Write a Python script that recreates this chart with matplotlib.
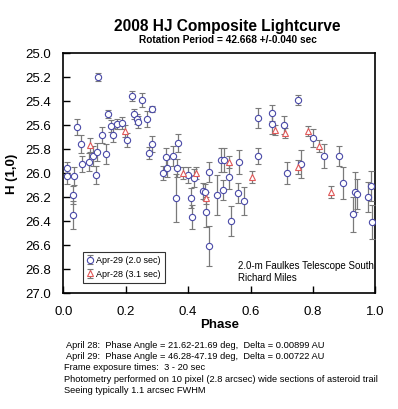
import matplotlib

matplotlib.use("Agg")
import matplotlib.pyplot as plt
import numpy as np

plt.rcParams["font.family"] = ["Liberation Sans", "DejaVu Sans"]

# Apr-29 (2.0 sec) - blue circles
apr29_phase = [0.011, 0.013, 0.034, 0.032, 0.032, 0.045, 0.057, 0.059, 0.081, 0.096,
               0.107, 0.105, 0.110, 0.124, 0.137, 0.144, 0.152, 0.158, 0.171, 0.188,
               0.205, 0.219, 0.227, 0.236, 0.238, 0.253, 0.267, 0.283, 0.285, 0.274,
               0.319, 0.328, 0.331, 0.353, 0.367, 0.363, 0.361, 0.401, 0.420, 0.408,
               0.412, 0.447, 0.455, 0.456, 0.468, 0.468, 0.492, 0.504, 0.515, 0.513,
               0.531, 0.538, 0.562, 0.561, 0.578, 0.623, 0.623, 0.670, 0.670, 0.707,
               0.717, 0.751, 0.762, 0.799, 0.837, 0.884, 0.896, 0.936, 0.942, 0.929,
               0.978, 0.986, 0.988]
apr29_mag = [26.023, 25.956, 26.018, 26.183, 26.345, 25.612, 25.758, 25.923, 25.903, 25.858,
             25.825, 26.014, 25.195, 25.681, 25.842, 25.506, 25.606, 25.681, 25.592, 25.583,
             25.725, 25.353, 25.506, 25.548, 25.570, 25.389, 25.545, 25.462, 25.756, 25.833,
             26.000, 25.867, 25.958, 25.856, 25.750, 25.958, 26.208, 26.014, 26.042, 26.208,
             26.367, 26.148, 26.158, 26.320, 26.606, 25.992, 26.178, 25.889, 25.889, 26.139,
             26.033, 26.395, 25.903, 26.167, 26.228, 25.542, 25.856, 25.500, 25.587, 25.598,
             26.000, 25.387, 25.920, 25.703, 25.853, 25.853, 26.078, 26.158, 26.175, 26.342,
             26.195, 26.106, 26.403]
apr29_err = [0.067, 0.050, 0.075, 0.075, 0.117, 0.067, 0.075, 0.067, 0.075, 0.083,
             0.075, 0.075, 0.033, 0.067, 0.083, 0.033, 0.050, 0.058, 0.042, 0.050,
             0.058, 0.042, 0.042, 0.042, 0.050, 0.058, 0.067, 0.025, 0.067, 0.050,
             0.058, 0.075, 0.075, 0.083, 0.075, 0.075, 0.200, 0.067, 0.075, 0.083,
             0.100, 0.067, 0.067, 0.125, 0.167, 0.083, 0.167, 0.100, 0.100, 0.083,
             0.100, 0.125, 0.100, 0.083, 0.117, 0.083, 0.067, 0.067, 0.083, 0.075,
             0.092, 0.042, 0.117, 0.075, 0.100, 0.083, 0.133, 0.167, 0.125, 0.142,
             0.125, 0.125, 0.142]

# Apr-28 (3.1 sec) - red triangles
apr28_phase = [0.087, 0.197, 0.385, 0.424, 0.457, 0.531, 0.605, 0.679, 0.712, 0.753,
               0.785, 0.821, 0.858]
apr28_mag = [25.764, 25.648, 26.000, 25.995, 26.208, 25.903, 26.033, 25.639, 25.667, 25.950,
             25.645, 25.770, 26.158]
apr28_err = [0.058, 0.050, 0.050, 0.050, 0.050, 0.050, 0.050, 0.042, 0.042, 0.058,
             0.042, 0.050, 0.050]

notes = [
    "April 28:  Phase Angle = 21.62-21.69 deg,  Delta = 0.00899 AU",
    "April 29:  Phase Angle = 46.28-47.19 deg,  Delta = 0.00722 AU",
    "Frame exposure times:  3 - 20 sec",
    "Photometry performed on 10 pixel (2.8 arcsec) wide sections of asteroid trail",
    "Seeing typically 1.1 arcsec FWHM",
]

fig = plt.figure(figsize=(3.98, 4.09), dpi=100)
ax = fig.add_axes([0.159, 0.2824, 0.784, 0.5873])

ax.errorbar(apr29_phase, apr29_mag, yerr=apr29_err, fmt="o", ms=4.5, mfc="white",
            mec="#4a4aa8", mew=0.8, ecolor="#7a7a7a", elinewidth=0.9, capsize=2.2,
            capthick=0.9, label="Apr-29 (2.0 sec)", zorder=3)
ax.errorbar(apr28_phase, apr28_mag, yerr=apr28_err, fmt="^", ms=4.2, mfc="white",
            mec="#e05858", mew=0.8, ecolor="#7a7a7a", elinewidth=0.9, capsize=2.2,
            capthick=0.9, label="Apr-28 (3.1 sec)", zorder=3)

ax.set_xlim(0, 1)
ax.set_ylim(27.0, 25.0)
ax.set_xticks(np.arange(0, 1.01, 0.2))
ax.set_yticks(np.arange(25.0, 27.01, 0.2))
ax.xaxis.set_major_formatter(plt.FormatStrFormatter("%.1f"))
ax.yaxis.set_major_formatter(plt.FormatStrFormatter("%.1f"))
ax.tick_params(direction="in", length=5, width=1, labelsize=9.5, top=False, right=False)
ax.tick_params(axis="x", pad=9)
ax.tick_params(axis="y", pad=9)
for s in ax.spines.values():
    s.set_linewidth(1.2)

ax.set_xlabel("Phase", fontsize=9.5, fontweight="bold", labelpad=1)
ax.set_ylabel("H (1,0)", fontsize=9.5, fontweight="bold", labelpad=5)

leg = ax.legend(loc="lower left", bbox_to_anchor=(0.062, 0.045), borderaxespad=0,
                fontsize=6.5, frameon=True, fancybox=False, handlelength=0.7,
                handletextpad=0.35, borderpad=0.45, labelspacing=0.5)
leg.get_frame().set_edgecolor("black")
leg.get_frame().set_linewidth(0.8)

ax.text(0.56, 0.045, "2.0-m Faulkes Telescope South\nRichard Miles", transform=ax.transAxes,
        fontsize=7, ha="left", va="bottom", linespacing=1.15)

fig.text(0.572, 0.935, "2008 HJ Composite Lightcurve", ha="center", va="center",
         fontsize=11.2, fontweight="bold")
fig.text(0.572, 0.902, "Rotation Period = 42.668 +/-0.040 sec", ha="center", va="center",
         fontsize=7.3, fontweight="bold")

y0 = 345.5
for i, line in enumerate(notes):
    x = 66 if i < 2 else 63.5
    fig.text(x / 398, 1 - (y0 + i * 11.2) / 409, line, ha="left", va="center", fontsize=6.7)

fig.savefig("out.png", dpi=100)
